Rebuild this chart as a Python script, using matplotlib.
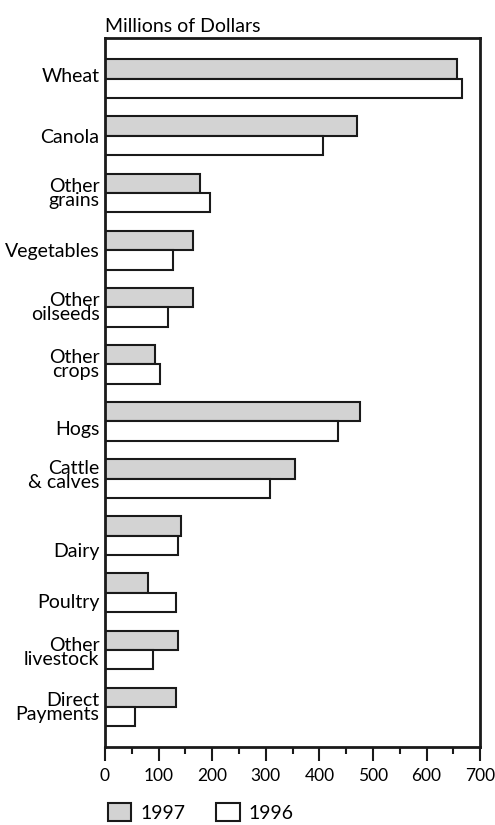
import matplotlib.pyplot as plt
from matplotlib.patches import Patch

plt.rcParams['font.family'] = ['Lato', 'DejaVu Sans']

categories = ['Wheat', 'Canola', 'Other\ngrains', 'Vegetables', 'Other\noilseeds',
              'Other\ncrops', 'Hogs', 'Cattle\n& calves', 'Dairy', 'Poultry',
              'Other\nlivestock', 'Direct\nPayments']
values_1997 = [656, 470, 177, 164, 164, 93, 476, 355, 141, 81, 137, 133]
values_1996 = [666, 406, 196, 127, 118, 103, 434, 308, 136, 133, 89, 57]
xticks = [0, 100, 200, 300, 400, 500, 600, 700]

# small vertical nudges for a few labels (in group units)
label_nudge = [-0.07, 0, 0, 0, 0, 0, 0.12, -0.05, 0.25, 0.15, 0.05, 0]

fs = 14
fig = plt.figure(figsize=(4.95, 8.25), dpi=100)
ax = fig.add_axes([0.212, 0.0945, 0.758, 0.8595])

bar_h = 0.34
pos = list(range(len(categories)))
ax.barh([p - bar_h / 2 for p in pos], values_1997, height=bar_h,
        color='#d3d3d3', edgecolor='#1a1a1a', linewidth=1.5)
ax.barh([p + bar_h / 2 for p in pos], values_1996, height=bar_h,
        color='white', edgecolor='#1a1a1a', linewidth=1.5)

ax.set_ylim(len(categories) - 1 + 0.7, -0.715)
ax.set_xlim(0, 700)
ax.set_yticks([p + n for p, n in zip(pos, label_nudge)])
ax.set_yticklabels(categories, fontsize=fs, linespacing=0.8, ha='right',
                   multialignment='right')
ax.tick_params(axis='y', length=0, pad=4)

ax.set_xticks(xticks)
ax.set_xticks([x + 50 for x in xticks[:-1]], minor=True)
ax.tick_params(axis='x', which='major', length=10, width=1.5, labelsize=12.5,
               direction='out', pad=5, color='#1a1a1a')
ax.tick_params(axis='x', which='minor', length=5, width=1.5, direction='out',
               color='#1a1a1a')
for s in ax.spines.values():
    s.set_linewidth(2)
    s.set_color('#1a1a1a')

ax.text(0, 1.004, 'Millions of Dollars', transform=ax.transAxes,
        fontsize=fs, ha='left', va='bottom')

handles = [Patch(facecolor='#d3d3d3', edgecolor='#1a1a1a', linewidth=1.5, label='1997'),
           Patch(facecolor='white', edgecolor='#1a1a1a', linewidth=1.5, label='1996')]
fig.legend(handles=handles, loc='lower left', bbox_to_anchor=(0.183, -0.017),
           ncol=2, frameon=False, fontsize=fs, handlelength=1.2, handleheight=1.05,
           handletextpad=0.45, columnspacing=1.6)

fig.savefig('out.png', dpi=100)
